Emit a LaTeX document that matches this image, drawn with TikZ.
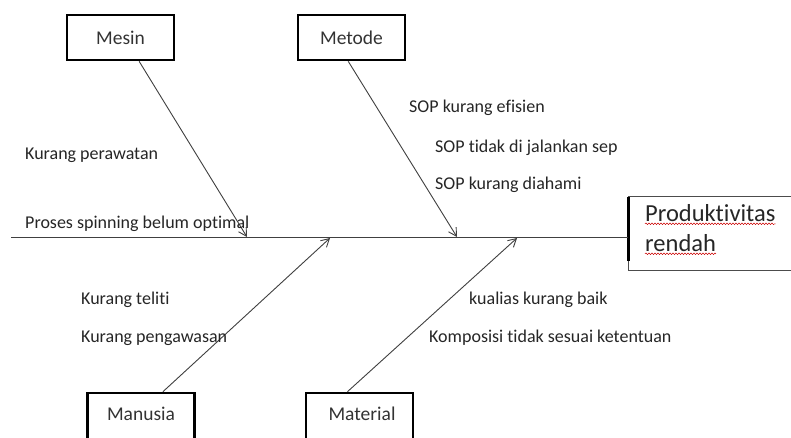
\documentclass[tikz,border=0pt]{standalone}
\usepackage{fontspec}
\setmainfont{Carlito}[Ligatures={NoCommon}]
\usetikzlibrary{arrows.meta,calc,decorations.pathmorphing}
\begin{document}
\begin{tikzpicture}[x=1pt,y=-1pt,
  catbox/.style={draw=black,line width=2.6pt,minimum width=107pt,minimum height=45pt,inner sep=0pt,font=\fontsize{19.5}{22}\selectfont,text=black!80},
  cattext/.style={font=\fontsize{19.5}{22}\selectfont,text=black!80},
  cause/.style={anchor=west,inner sep=0pt,font=\fontsize{18}{21}\selectfont,text=black!85},
  bone/.style={draw=black!75,line width=0.9pt,-{Straight Barb[length=8pt,width=9pt]}},
  squig/.style={draw=red!80!black,line width=0.5pt,decorate,decoration={snake,amplitude=0.8pt,segment length=3pt}}
]
\useasboundingbox (0,0) rectangle (791,437);
\fill[white] (0,0) rectangle (791,437);
\begin{scope}
\clip (0,0) rectangle (791,437);
% category boxes
\node[catbox] (mesin) at (120.5,37.5) {Mesin};
\node[catbox] (metode) at (351.5,37.5) {Metode};
\node[catbox,minimum height=60pt] (manusia) at (141,423) {};
\node[catbox,minimum height=60pt] (material) at (359.5,423) {};
\node[cattext] (manusiaT) at (141,414) {Manusia};
\node[cattext] (materialT) at (362,414) {Material};
% effect box
\node[anchor=north west,inner sep=0pt,minimum width=200pt,minimum height=74pt] (effect) at (628,196) {};
\draw[black!70,line width=0.9pt] (effect.north west) -- (effect.north east) -- (effect.south east) -- (effect.south west) -- cycle;
\draw[black,line width=3pt] ($(effect.north west)+(0,1)$) -- ($(effect.north west)+(0,65)$);
\node[anchor=west,inner sep=0pt,font=\fontsize{24.5}{28}\selectfont,text=black!85] (p1) at (645,213) {Produktivitas};
\node[anchor=west,inner sep=0pt,font=\fontsize{24.5}{28}\selectfont,text=black!85] (p2) at (645,243) {rendah};
\draw[squig] ($(p1.south west)+(0,2)$) -- ($(p1.south east)+(0,2)$);
\draw[squig] ($(p2.south west)+(0,2)$) -- ($(p2.south east)+(0,2)$);
\end{scope}
% spine
\coordinate (tail) at (11,237);
\draw[black!75,line width=0.9pt] (tail) -- (effect.west |- tail);
\coordinate (jMesin) at (247,237);
\coordinate (jMetode) at (457,237);
\coordinate (jManusia) at (330,238);
\coordinate (jMaterial) at (517,238);
\draw[bone] ($(mesin.south west)!0.67!(mesin.south east)$) -- (jMesin);
\draw[bone] ($(metode.south west)!0.47!(metode.south east)$) -- (jMetode);
\draw[bone] ($(manusia.north west)!0.70!(manusia.north east)$) -- (jManusia);
\draw[bone] ($(material.north west)!0.39!(material.north east)$) -- (jMaterial);
% causes
\node[cause] (c1) at (25,155) {Kurang perawatan};
\node[cause] (c2) at (25,224) {Proses spinning belum optimal};
\node[cause] (c3) at (409,108) {SOP kurang efisien};
\node[cause] (c4) at (435,148) {SOP tidak di jalankan sep};
\node[cause] (c5) at (435,185) {SOP kurang diahami};
\node[cause] (c6) at (81,300) {Kurang teliti};
\node[cause] (c7) at (81,338) {Kurang pengawasan};
\node[cause] (c8) at (469,300) {kualias kurang baik};
\node[cause] (c9) at (429,338) {Komposisi tidak sesuai ketentuan};
\end{tikzpicture}
\end{document}
